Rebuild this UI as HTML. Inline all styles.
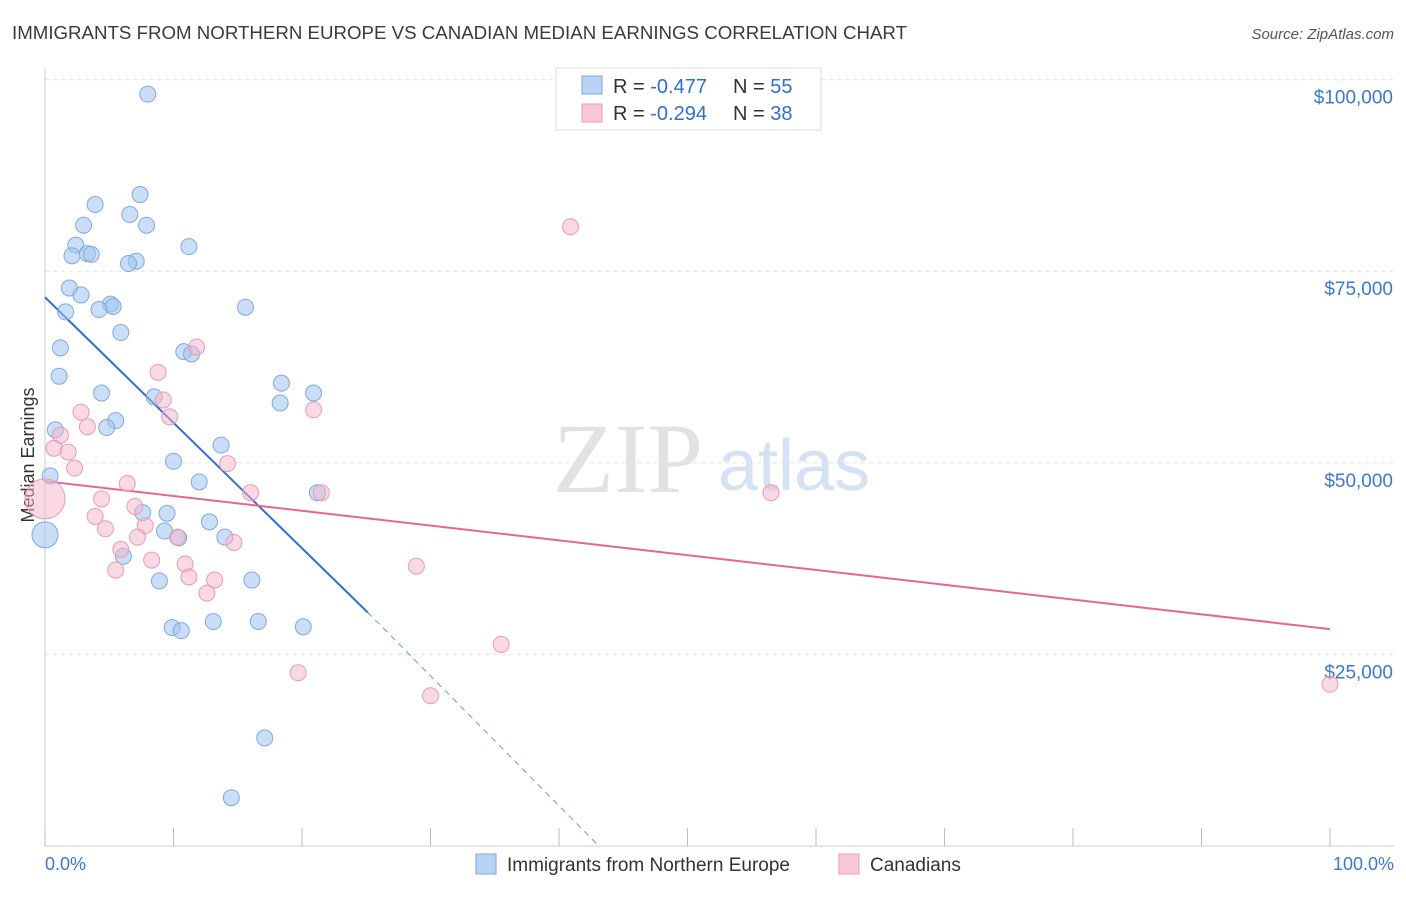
<!DOCTYPE html>
<html><head><meta charset="utf-8"><style>
body{margin:0;background:#fff;font-family:"Liberation Sans",sans-serif;}
</style></head><body>
<svg id="chart" width="1406" height="892" xmlns="http://www.w3.org/2000/svg">
<text x="12" y="39" font-size="18.7" fill="#3a3a3a">IMMIGRANTS FROM NORTHERN EUROPE VS CANADIAN MEDIAN EARNINGS CORRELATION CHART</text>
<text x="1394" y="39" font-size="15" fill="#555" font-style="italic" text-anchor="end">Source: ZipAtlas.com</text>
<g id="grid"></g>
<text x="553" y="492" font-size="100" fill="#e2e2e2" font-family="Liberation Serif,serif">ZIP</text>
<text x="718" y="490" font-size="72" fill="#d4e2f4">atlas</text>
<text transform="translate(34,455) rotate(-90)" font-size="18" fill="#333" text-anchor="middle">Median Earnings</text>
<g id="trend"></g>
<g id="pts"></g>
<g>
<rect x="556" y="68" width="265" height="62" fill="#fff" stroke="#ddd"/>
<rect x="582" y="76" width="20" height="18" fill="#b8d3f5" stroke="#7fa9e0"/>
<rect x="582" y="104" width="20" height="18" fill="#f9c8d7" stroke="#e99ab4"/>
<text x="613" y="93" font-size="20" fill="#333">R = <tspan fill="#2f6fcf">-0.477</tspan></text>
<text x="733" y="93" font-size="20" fill="#333">N = <tspan fill="#2f6fcf">55</tspan></text>
<text x="613" y="120" font-size="20" fill="#333">R = <tspan fill="#2f6fcf">-0.294</tspan></text>
<text x="733" y="120" font-size="20" fill="#333">N = <tspan fill="#2f6fcf">38</tspan></text>
</g>
<g>
<rect x="476" y="854" width="20" height="20" fill="#b8d3f5" stroke="#7fa9e0"/>
<text x="507" y="871" font-size="19" fill="#333">Immigrants from Northern Europe</text>
<rect x="839" y="854" width="20" height="20" fill="#f9c8d7" stroke="#e99ab4"/>
<text x="870" y="871" font-size="19" fill="#333">Canadians</text>
</g>
<text x="45" y="870" font-size="18" fill="#3b78d0">0.0%</text>
<text x="1394" y="870" font-size="18" fill="#3b78d0" text-anchor="end">100.0%</text>
</svg>
<script>
const yTicks=[100000,75000,50000,25000];
const yTickLabels=["$100,000","$75,000","$50,000","$25,000"];
const blueX=[8.0,7.4,3.9,6.6,3.0,7.9,2.4,11.2,3.3,2.1,3.6,7.1,6.5,1.9,2.8,5.1,5.3,4.2,1.6,15.6,5.9,1.2,10.8,11.4,1.1,18.4,4.4,20.9,8.5,18.3,5.5,4.8,0.8,13.7,10.0,0.4,12.0,21.2,7.6,9.5,12.8,9.3,10.4,14.0,0.0,6.1,8.9,16.1,9.9,10.6,13.1,16.6,20.1,17.1,14.5];
const blueY=[98100,85000,83700,82400,81000,81000,78400,78200,77300,77000,77200,76300,76000,72800,71900,70700,70400,70000,69700,70300,67000,65000,64500,64200,61300,60400,59100,59100,58600,57800,55500,54600,54300,52300,50200,48300,47500,46100,43500,43400,42300,41100,40200,40300,40600,37800,34600,34700,28500,28100,29300,29300,28600,14100,6300];
const pinkX=[40.9,11.8,8.8,9.2,2.8,9.7,20.9,3.3,1.2,0.7,1.8,2.3,14.2,0.0,6.4,16.0,21.5,56.5,4.4,7.0,3.9,7.8,4.7,7.2,10.3,14.7,5.9,8.3,10.9,5.5,11.2,13.2,28.9,12.6,35.5,19.7,30.0,100.0];
const pinkY=[80800,65100,61800,58200,56600,56000,56900,54700,53600,51900,51400,49300,49900,45300,47300,46100,46100,46100,45300,44300,43000,41800,41400,40300,40300,39600,38700,37300,36800,36000,35100,34700,36500,33000,26300,22600,19600,21100];
const X=v=>45+v*12.85, Y=v=>846-v/25000*191.6;
const NS="http://www.w3.org/2000/svg";
function mk(t,a,p){const e=document.createElementNS(NS,t);for(const k in a)e.setAttribute(k,a[k]);p.appendChild(e);return e;}
const grid=document.getElementById('grid');
yTicks.forEach((v,i)=>{
 const l=mk('line',{x1:45,x2:1394,y1:Y(v),y2:Y(v),stroke:'#e3e3e3','stroke-dasharray':'4,4'},grid);
 
 
 const t=mk('text',{x:1393,y:Y(v)+24,'font-size':19,fill:'#3b78d0','text-anchor':'end'},grid);
 t.textContent=yTickLabels[i];
 
 
});
mk('line',{x1:45,x2:1394,y1:846,y2:846,stroke:'#ccc'},grid);
mk('line',{x1:45,x2:45,y1:68,y2:846,stroke:'#ccc'},grid);
for(let i=0;i<=10;i++){const tk=mk('line',{x1:X(i*10),x2:X(i*10),y1:828,y2:846,stroke:'#bbb'},grid);
 
 }
const tr=document.getElementById('trend');
const bl=mk('line',{x1:X(0),y1:Y(71600),x2:X(25.1),y2:Y(30500),stroke:'#2f6fd6','stroke-width':2},tr);


mk('line',{x1:X(25.1),y1:Y(30500),x2:X(43.1),y2:Y(0),stroke:'#6a9ad8','stroke-width':1,'stroke-dasharray':'6,5'},tr);
const pl=mk('line',{x1:X(0),y1:Y(47600),x2:X(100),y2:Y(28300),stroke:'#e8658f','stroke-width':2},tr);


const pts=document.getElementById('pts');
blueX.forEach((v,i)=>{const c=mk('circle',{cx:X(v),cy:Y(blueY[i]),r:i==44?13:8,fill:'rgba(160,195,240,0.55)',stroke:'#7fa9e0','stroke-width':1},pts);
 
 });
pinkX.forEach((v,i)=>{const c=mk('circle',{cx:X(v),cy:Y(pinkY[i]),r:i==13?20:8,fill:'rgba(247,180,202,0.5)',stroke:'#e99ab4','stroke-width':1},pts);
 
 });
</script>
</body></html>
